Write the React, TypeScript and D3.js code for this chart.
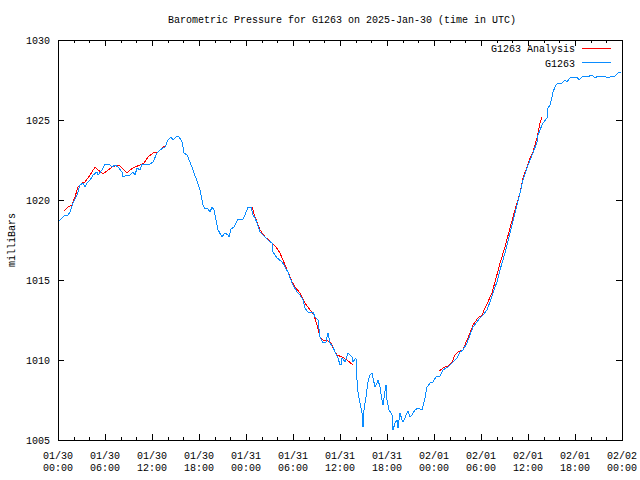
import React from "react";
import * as d3 from "d3";

// hours since 2025-01-30 00:00 UTC
const obsHours = [
  0, 0.26, 0.89, 1.28, 1.53, 1.91, 2.43, 2.81, 3.19, 3.45, 3.7, 4.09, 4.47, 4.98, 5.11, 5.62, 6.0, 6.51, 6.89, 7.28,
  7.66, 8.17, 8.3, 8.81, 9.19, 9.57, 9.83, 10.09, 10.47, 10.72, 11.74, 12.13, 12.64, 13.02, 13.66, 14.04, 14.43, 14.68,
  15.06, 15.45, 15.83, 16.09, 16.47, 16.85, 17.23, 17.74, 18.13, 18.51, 18.77, 19.15, 19.4, 19.66, 19.91, 20.17, 20.43,
  20.94, 21.32, 21.7, 21.83, 22.09, 22.47, 22.98, 23.62, 23.87, 24.26, 24.64, 24.89, 25.15, 25.4, 25.79, 26.17, 26.81,
  27.32, 27.45, 27.96, 28.6, 28.98, 29.36, 29.62, 30.0, 30.51, 30.89, 31.28, 31.53, 31.91, 32.3, 32.55, 32.81, 33.19,
  33.45, 33.83, 34.21, 34.47, 34.72, 35.11, 35.36, 35.74, 36.0, 36.13, 36.26, 36.64, 37.02, 37.53, 37.66, 38.04, 38.17,
  38.3, 38.55, 38.81, 38.94, 39.06, 39.32, 39.57, 39.83, 40.09, 40.21, 40.47, 40.72, 40.85, 41.11, 41.36, 41.49, 41.62,
  41.87, 42.0, 42.26, 42.64, 42.77, 43.02, 43.28, 43.4, 43.66, 43.91, 44.04, 44.3, 44.55, 44.68, 44.94, 45.19, 45.57,
  45.96, 46.47, 46.85, 47.11, 47.49, 47.87, 48.26, 48.77, 49.15, 49.79, 50.43, 50.94, 51.32, 51.7, 52.21, 52.6, 52.98,
  53.49, 53.87, 54.26, 54.77, 55.15, 55.53, 56.04, 56.43, 57.06, 57.7, 58.34, 58.98, 59.36, 59.87, 60.26, 60.64, 61.15,
  61.28, 61.53, 61.91, 62.43, 62.55, 62.81, 63.06, 63.19, 63.57, 63.83, 64.34, 64.72, 64.98, 65.36, 65.74, 66.26, 66.51,
  66.89, 67.28, 67.53, 68.17, 68.55, 68.94, 69.57, 70.21, 70.72, 71.11, 71.49, 71.87,
];
const obsValues = [
  1018.63, 1018.75, 1019.06, 1019.06, 1019.25, 1019.81, 1020.31, 1020.94, 1021.06, 1020.81, 1021.06, 1021.25, 1021.56,
  1021.75, 1021.56, 1021.88, 1022.25, 1022.25, 1022.06, 1022.19, 1022.06, 1021.75, 1021.44, 1021.56, 1021.56, 1021.75,
  1021.56, 1022.0, 1021.88, 1022.25, 1022.25, 1022.38, 1022.94, 1023.13, 1023.31, 1023.75, 1023.94, 1023.75, 1023.94,
  1023.94, 1023.63, 1022.94, 1022.81, 1022.38, 1021.88, 1021.19, 1020.63, 1019.69, 1019.44, 1019.44, 1019.25, 1019.56,
  1019.38, 1018.75, 1018.13, 1017.69, 1017.94, 1017.81, 1017.69, 1018.19, 1018.31, 1018.81, 1018.81, 1019.06, 1019.56,
  1019.56, 1019.06, 1018.88, 1018.56, 1018.0, 1017.81, 1017.5, 1017.31, 1016.75, 1016.38, 1016.13, 1015.81, 1015.5,
  1015.13, 1014.69, 1014.25, 1014.06, 1013.75, 1013.25, 1013.0, 1012.94, 1013.0, 1012.69, 1012.5, 1011.44, 1011.06,
  1011.13, 1011.69, 1011.06, 1010.81, 1010.5, 1010.13, 1009.69, 1009.69, 1010.13, 1009.88, 1010.44, 1010.19, 1009.88,
  1010.13, 1008.75, 1008.0, 1007.31, 1006.69, 1005.81, 1006.88, 1007.69, 1008.63, 1009.06, 1009.19, 1008.88, 1008.31,
  1008.56, 1008.75, 1008.31, 1007.5, 1007.19, 1007.63, 1008.44, 1007.5, 1006.88, 1006.56, 1005.63, 1006.06, 1006.25,
  1005.75, 1006.69, 1006.25, 1006.13, 1006.38, 1006.69, 1006.81, 1006.44, 1006.56, 1006.88, 1007.0, 1006.88, 1007.63,
  1008.31, 1008.56, 1008.63, 1008.94, 1009.0, 1009.38, 1009.56, 1009.88, 1010.13, 1010.5, 1010.63, 1011.06, 1011.56,
  1012.06, 1012.38, 1012.63, 1012.81, 1013.13, 1013.63, 1014.19, 1014.88, 1015.63, 1016.69, 1017.94, 1019.19, 1020.44,
  1021.25, 1022.0, 1022.5, 1022.94, 1023.63, 1024.06, 1024.38, 1024.81, 1025.13, 1025.75, 1025.94, 1026.44, 1026.75,
  1027.19, 1027.31, 1027.31, 1027.5, 1027.38, 1027.63, 1027.63, 1027.69, 1027.5, 1027.69, 1027.69, 1027.69, 1027.81,
  1027.63, 1027.75, 1027.75, 1027.63, 1027.75, 1027.75, 1027.94, 1027.94,
];

// analysis: three separate runs
const anaHours1 = [0.77, 1.28, 1.79, 2.17, 2.55, 3.06, 3.45, 3.83, 4.34, 4.72, 5.11, 5.74, 6.26, 6.89, 7.53, 7.91, 8.3, 8.81, 9.19, 9.83, 10.47, 10.98, 11.49, 12.13, 12.77, 13.28, 13.66];
const anaValues1 = [1019.31, 1019.56, 1019.69, 1020.19, 1020.81, 1021.06, 1021.13, 1021.38, 1021.75, 1022.06, 1021.88, 1021.63, 1021.81, 1022.06, 1022.19, 1022.13, 1021.94, 1021.69, 1021.88, 1022.06, 1022.19, 1022.31, 1022.69, 1022.94, 1023.0, 1023.25, 1023.38];
const anaHours2 = [24.77, 25.15, 25.79, 26.43, 27.32, 27.83, 28.34, 28.98, 29.36, 29.87, 30.26, 30.89, 31.53, 32.17, 32.68, 33.06, 33.45, 33.83, 34.34, 34.85, 35.23, 35.62, 36.26, 36.89, 37.66];
const anaValues2 = [1019.56, 1018.94, 1018.13, 1017.69, 1017.31, 1017.06, 1016.69, 1015.94, 1015.5, 1014.88, 1014.56, 1014.19, 1013.56, 1013.13, 1012.81, 1012.19, 1011.44, 1011.25, 1011.25, 1011.06, 1010.63, 1010.31, 1010.19, 1010.0, 1009.69];
const anaHours3 = [48.64, 49.15, 49.79, 50.3, 50.68, 51.06, 51.7, 52.21, 52.6, 52.98, 53.62, 54.13, 54.51, 54.89, 55.4, 55.79, 56.43, 57.06, 57.7, 58.34, 58.98, 59.36, 59.87, 60.26, 60.64, 61.15, 61.53, 61.79];
const anaValues3 = [1009.31, 1009.5, 1009.63, 1009.88, 1010.31, 1010.5, 1010.63, 1011.25, 1011.69, 1012.19, 1012.63, 1012.81, 1013.25, 1013.63, 1014.19, 1014.88, 1016.06, 1017.06, 1018.25, 1019.38, 1020.44, 1021.38, 1022.06, 1022.63, 1023.0, 1023.88, 1024.81, 1025.19];

const xTickHours = [0, 6, 12, 18, 24, 30, 36, 42, 48, 54, 60, 66, 72];
const xTickDays = ["01/30", "01/30", "01/30", "01/30", "01/31", "01/31", "01/31", "01/31", "02/01", "02/01", "02/01", "02/01", "02/02"];
const xTickTimes = ["00:00", "06:00", "12:00", "18:00", "00:00", "06:00", "12:00", "18:00", "00:00", "06:00", "12:00", "18:00", "00:00"];
const yTicks = [1005, 1010, 1015, 1020, 1025, 1030];

const TITLE = "Barometric Pressure for G1263 on 2025-Jan-30 (time in UTC)";
const Y_LABEL = "milliBars";
const LEGEND = ["G1263 Analysis", "G1263"];
const RED = "#ff0000";
const BLUE = "#0a8cff";
const FONT = "'Liberation Mono', 'DejaVu Sans Mono', monospace";

export default function App() {
  const W = 640, H = 480;
  const L = 58, R = 622, T = 40, B = 440;
  const x = d3.scaleLinear().domain([0, 72]).range([L, R]);
  const y = d3.scaleLinear().domain([1005, 1030]).range([B, T]);

  const line = d3
    .line<[number, number]>()
    .x((d) => x(d[0]))
    .y((d) => y(d[1]));

  const obs = d3.zip(obsHours, obsValues) as [number, number][];
  const ana = [
    d3.zip(anaHours1, anaValues1),
    d3.zip(anaHours2, anaValues2),
    d3.zip(anaHours3, anaValues3),
  ] as [number, number][][];

  const minorX = d3.range(0, 73, 2).filter((h) => h % 6 !== 0);

  return (
    <svg
      width={W}
      height={H}
      style={{ position: "absolute", left: 0, top: 0, background: "#fff" }}
      fontFamily={FONT}
      fontSize={10}
    >
      <rect x={0} y={0} width={W} height={H} fill="#fff" />
      <text x={(L + R) / 2 + 2} y={23} textAnchor="middle" fill="#000">
        {TITLE}
      </text>
      <text
        transform={`translate(15,${(T + B) / 2}) rotate(-90)`}
        textAnchor="middle"
        fill="#000"
      >
        {Y_LABEL}
      </text>

      <g shapeRendering="crispEdges" stroke="#000" strokeWidth={1}>
        {yTicks.map((v) => (
          <g key={v}>
            <line x1={L} x2={L + 6} y1={Math.round(y(v)) + 0.5} y2={Math.round(y(v)) + 0.5} />
            <line x1={R - 6} x2={R} y1={Math.round(y(v)) + 0.5} y2={Math.round(y(v)) + 0.5} />
          </g>
        ))}
        {xTickHours.map((h) => (
          <g key={h}>
            <line x1={Math.round(x(h)) + 0.5} x2={Math.round(x(h)) + 0.5} y1={B} y2={B - 6} />
            <line x1={Math.round(x(h)) + 0.5} x2={Math.round(x(h)) + 0.5} y1={T} y2={T + 6} />
          </g>
        ))}
        {minorX.map((h) => (
          <g key={h}>
            <line x1={Math.round(x(h)) + 0.5} x2={Math.round(x(h)) + 0.5} y1={B} y2={B - 3} />
            <line x1={Math.round(x(h)) + 0.5} x2={Math.round(x(h)) + 0.5} y1={T} y2={T + 3} />
          </g>
        ))}
      </g>

      {yTicks.map((v) => (
        <text key={v} x={L - 8} y={y(v) + 4} textAnchor="end" fill="#000">
          {v}
        </text>
      ))}
      {xTickHours.map((h, i) => (
        <g key={h}>
          <text x={x(h)} y={459} textAnchor="middle" fill="#000">
            {xTickDays[i]}
          </text>
          <text x={x(h)} y={471} textAnchor="middle" fill="#000">
            {xTickTimes[i]}
          </text>
        </g>
      ))}

      <g fill="none" strokeWidth={1} shapeRendering="crispEdges">
        {ana.map((seg, i) => (
          <path key={i} d={line(seg) ?? ""} stroke={RED} />
        ))}
        <path d={line(obs) ?? ""} stroke={BLUE} />
      </g>

      <g>
        <text x={575} y={52} textAnchor="end" fill="#000">
          {LEGEND[0]}
        </text>
        <line x1={582} x2={611} y1={48.5} y2={48.5} stroke={RED} shapeRendering="crispEdges" />
        <text x={575} y={67} textAnchor="end" fill="#000">
          {LEGEND[1]}
        </text>
        <line x1={582} x2={611} y1={62.5} y2={62.5} stroke={BLUE} shapeRendering="crispEdges" />
      </g>

      <rect
        x={L + 0.5}
        y={T + 0.5}
        width={R - L}
        height={B - T}
        fill="none"
        stroke="#000"
        shapeRendering="crispEdges"
      />
    </svg>
  );
}
